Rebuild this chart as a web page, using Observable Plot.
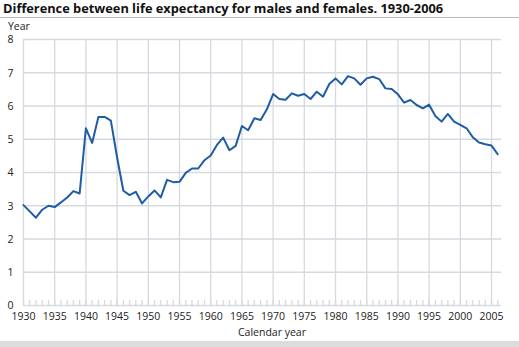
<!DOCTYPE html>
<html>
<head>
<meta charset="utf-8">
<script src="https://cdn.jsdelivr.net/npm/d3@7"></script>
<script src="https://cdn.jsdelivr.net/npm/@observablehq/plot@0.6"></script>
<style>
  html, body { margin: 0; padding: 0; background: #fff; }
  #wrap { position: relative; width: 519px; height: 347px; overflow: hidden; font-family: "Open Sans", sans-serif; color: #222; }
  #wrap svg { position: absolute; left: 0; top: 0; }
  .abs { position: absolute; white-space: nowrap; }
  #title { left: 3px; top: 0px; font-size: 12.8px; line-height: 17px; font-weight: bold; color: #111; }
  #rule { left: 0; top: 17px; width: 519px; height: 1px; background: #b8b8b8; }
  #ylab { left: 8px; top: 20px; font-size: 10.5px; line-height: 13px; }
  #xlab { left: 272px; top: 326px; font-size: 10.5px; line-height: 13px; transform: translateX(-50%); }
  #band { left: 0; top: 341px; width: 519px; height: 6px; background: #dcdcdc; }
</style>
</head>
<body>
<div id="wrap">
  <div id="plot"></div>
  <div class="abs" id="title">Difference between life expectancy for males and females. 1930-2006</div>
  <div class="abs" id="rule"></div>
  <div class="abs" id="ylab">Year</div>
  <div class="abs" id="xlab">Calendar year</div>
  <div class="abs" id="band"></div>
</div>
<script>
const years = [1930,1931,1932,1933,1934,1935,1936,1937,1938,1939,
  1940,1941,1942,1943,1944,1945,1946,1947,1948,1949,
  1950,1951,1952,1953,1954,1955,1956,1957,1958,1959,
  1960,1961,1962,1963,1964,1965,1966,1967,1968,1969,
  1970,1971,1972,1973,1974,1975,1976,1977,1978,1979,
  1980,1981,1982,1983,1984,1985,1986,1987,1988,1989,
  1990,1991,1992,1993,1994,1995,1996,1997,1998,1999,
  2000,2001,2002,2003,2004,2005,2006];
const difference = [3.02,2.83,2.64,2.88,3.00,2.96,3.10,3.25,3.44,3.37,
  5.33,4.89,5.67,5.67,5.56,4.45,3.45,3.32,3.42,3.07,
  3.28,3.46,3.25,3.78,3.71,3.72,3.99,4.12,4.12,4.37,
  4.51,4.83,5.05,4.67,4.80,5.40,5.27,5.63,5.58,5.90,
  6.36,6.21,6.19,6.38,6.31,6.36,6.21,6.43,6.28,6.66,
  6.83,6.65,6.90,6.83,6.64,6.83,6.88,6.81,6.53,6.51,
  6.35,6.10,6.18,6.03,5.93,6.04,5.70,5.53,5.76,5.53,
  5.43,5.33,5.06,4.90,4.85,4.81,4.55];
const xTicks = [1930,1935,1940,1945,1950,1955,1960,1965,1970,1975,1980,1985,1990,1995,2000,2005];
const yTicks = [0,1,2,3,4,5,6,7,8];

const data = years.map((y, i) => ({year: y, value: difference[i]}));
const gridColor = "#d6d9df";

const chart = Plot.plot({
  width: 519,
  height: 347,
  marginTop: 39,
  marginBottom: 42,
  marginLeft: 23,
  marginRight: 18,
  style: {fontFamily: "'Open Sans', sans-serif", fontSize: "10.5px", color: "#222", background: "transparent", overflow: "visible"},
  x: {domain: [1930, 2006.6], label: null},
  y: {domain: [0, 8], label: null},
  marks: [
    Plot.gridY(yTicks, {stroke: gridColor, strokeOpacity: 1, strokeWidth: 1.3}),
    Plot.gridX(xTicks, {stroke: gridColor, strokeOpacity: 1, strokeWidth: 1.3}),
    Plot.ruleX(years, {x: d => d, y1: 0, y2: 0.15, stroke: gridColor, strokeWidth: 1.3}),
    Plot.axisY(yTicks, {tickSize: 0, tickPadding: 10, dy: 0.5, label: null}),
    Plot.axisX(xTicks, {tickSize: 0, tickPadding: 7, tickFormat: d => String(d), label: null}),
    Plot.line(data, {x: "year", y: "value", stroke: "#1f5ca6", strokeWidth: 2})
  ]
});
document.getElementById("plot").appendChild(chart);
</script>
</body>
</html>
